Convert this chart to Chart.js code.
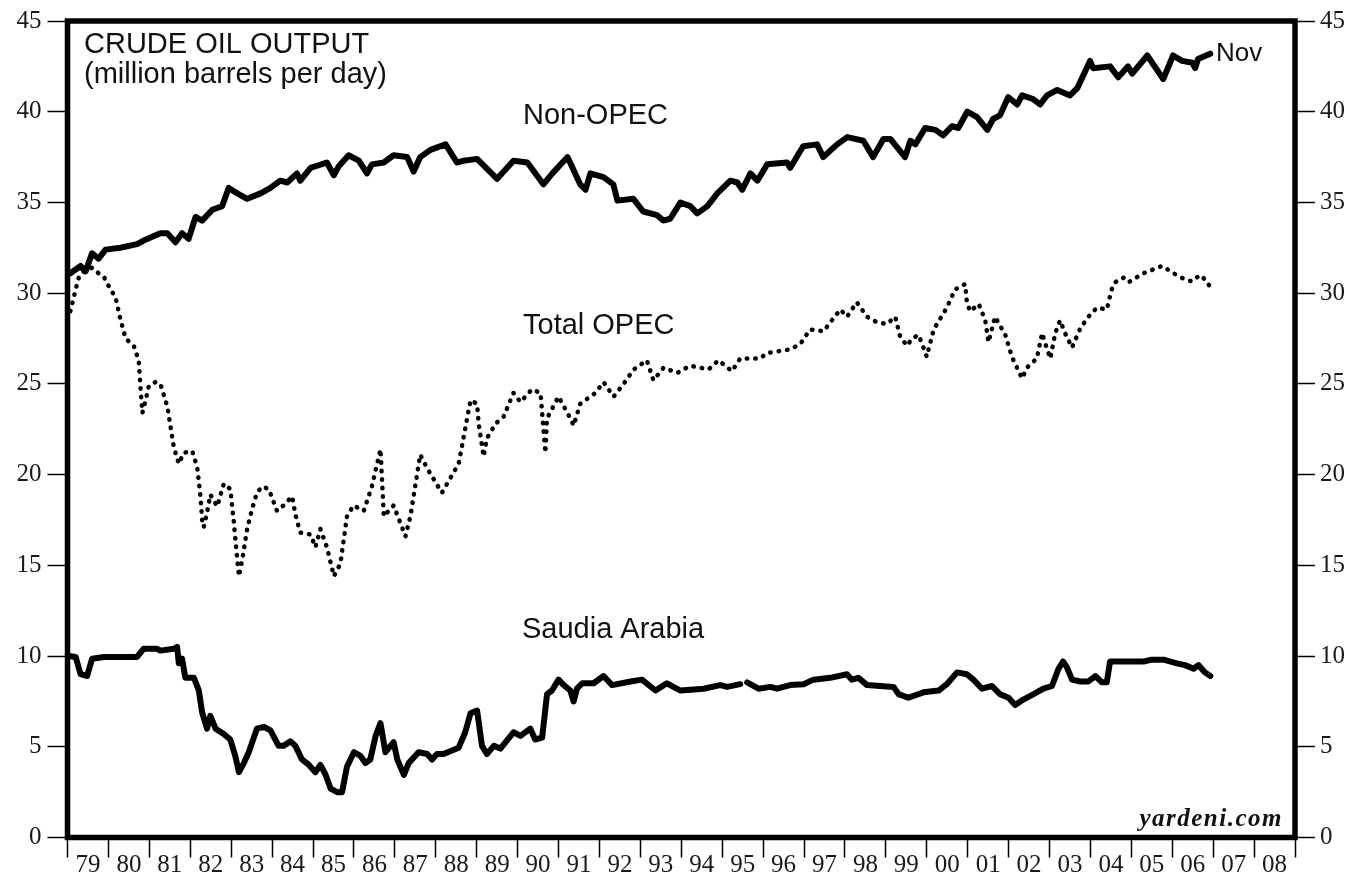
<!DOCTYPE html>
<html>
<head>
<meta charset="utf-8">
<title>Crude Oil Output</title>
<script src="https://cdn.jsdelivr.net/npm/chart.js@4.4.1/dist/chart.umd.min.js"></script>
<style>
  html, body { margin: 0; padding: 0; background: #fff; }
  canvas { display: block; }
</style>
</head>
<body>
<canvas id="chart" width="1351" height="875"></canvas>
<script>
// Year labels sit between the yearly tick marks (79 .. 08)
const yearLabels = ["79","80","81","82","83","84","85","86","87","88","89","90","91","92","93",
  "94","95","96","97","98","99","00","01","02","03","04","05","06","07","08"];

// Non-OPEC output, million barrels per day
const nonOpecYears = [1979.07, 1979.32, 1979.44, 1979.60, 1979.76, 1979.93, 1980.29, 1980.70, 1980.86, 1981.27,
  1981.44, 1981.64, 1981.80, 1981.96, 1982.13, 1982.29, 1982.54, 1982.78, 1982.94, 1983.15,
  1983.39, 1983.72, 1983.96, 1984.20, 1984.37, 1984.61, 1984.69, 1984.94, 1985.34, 1985.51,
  1985.63, 1985.87, 1986.12, 1986.32, 1986.44, 1986.73, 1986.97, 1987.30, 1987.46, 1987.62,
  1987.87, 1988.24, 1988.52, 1988.68, 1989.01, 1989.50, 1989.90, 1990.24, 1990.63, 1990.85,
  1991.22, 1991.53, 1991.66, 1991.78, 1992.10, 1992.34, 1992.44, 1992.83, 1993.07, 1993.41,
  1993.56, 1993.73, 1993.98, 1994.22, 1994.39, 1994.64, 1994.88, 1995.20, 1995.37, 1995.49,
  1995.69, 1995.86, 1996.10, 1996.59, 1996.66, 1996.98, 1997.32, 1997.47, 1997.81, 1998.06,
  1998.45, 1998.69, 1998.94, 1999.11, 1999.47, 1999.60, 1999.72, 1999.96, 2000.21, 2000.40,
  2000.62, 2000.77, 2000.99, 2001.23, 2001.48, 2001.62, 2001.79, 2001.99, 2002.21, 2002.33,
  2002.60, 2002.77, 2002.94, 2003.19, 2003.50, 2003.68, 2003.99, 2004.07, 2004.48, 2004.68,
  2004.92, 2005.02, 2005.39, 2005.63, 2005.78, 2006.02, 2006.24, 2006.49, 2006.56, 2006.63,
  2006.93];
const nonOpecValues = [31.1, 31.5, 31.2, 32.2, 31.9, 32.4, 32.5, 32.7, 32.9, 33.3,
  33.3, 32.8, 33.3, 33.0, 34.2, 34.0, 34.6, 34.8, 35.8, 35.5,
  35.2, 35.5, 35.8, 36.2, 36.1, 36.6, 36.2, 36.9, 37.2, 36.5,
  37.0, 37.6, 37.3, 36.6, 37.1, 37.2, 37.6, 37.5, 36.7, 37.5,
  37.9, 38.2, 37.2, 37.3, 37.4, 36.3, 37.3, 37.2, 36.0, 36.6,
  37.5, 36.0, 35.7, 36.6, 36.4, 36.0, 35.1, 35.2, 34.5, 34.3,
  34.0, 34.1, 35.0, 34.8, 34.4, 34.8, 35.5, 36.2, 36.1, 35.7,
  36.6, 36.2, 37.1, 37.2, 36.9, 38.1, 38.2, 37.5, 38.2, 38.6,
  38.4, 37.5, 38.5, 38.5, 37.5, 38.4, 38.2, 39.1, 39.0, 38.7,
  39.2, 39.1, 40.0, 39.7, 39.0, 39.6, 39.8, 40.8, 40.4, 40.9,
  40.7, 40.4, 40.9, 41.2, 40.9, 41.3, 42.8, 42.4, 42.5, 41.9,
  42.5, 42.1, 43.1, 42.3, 41.8, 43.1, 42.8, 42.7, 42.4, 42.9,
  43.2];

// Total OPEC (dotted line)
const opecYears = [1979.07, 1979.20, 1979.28, 1979.40, 1979.60, 1979.76, 1979.89, 1980.05, 1980.17, 1980.29,
  1980.42, 1980.62, 1980.74, 1980.78, 1980.83, 1980.91, 1980.99, 1981.15, 1981.27, 1981.44,
  1981.60, 1981.72, 1981.84, 1982.05, 1982.17, 1982.25, 1982.29, 1982.33, 1982.41, 1982.49,
  1982.66, 1982.82, 1982.98, 1983.06, 1983.15, 1983.19, 1983.27, 1983.39, 1983.51, 1983.63,
  1983.76, 1983.92, 1984.12, 1984.28, 1984.49, 1984.57, 1984.69, 1984.94, 1985.06, 1985.18,
  1985.34, 1985.51, 1985.67, 1985.83, 1985.99, 1986.24, 1986.44, 1986.65, 1986.73, 1986.97,
  1987.26, 1987.38, 1987.62, 1987.79, 1988.15, 1988.56, 1988.85, 1989.01, 1989.05, 1989.17,
  1989.25, 1989.46, 1989.66, 1989.90, 1990.07, 1990.35, 1990.56, 1990.68, 1990.72, 1991.00,
  1991.29, 1991.37, 1991.53, 1991.90, 1992.10, 1992.35, 1992.59, 1992.84, 1993.16, 1993.32,
  1993.57, 1993.90, 1994.22, 1994.67, 1994.91, 1995.24, 1995.44, 1995.93, 1996.09, 1996.66,
  1996.91, 1997.15, 1997.48, 1997.68, 1997.89, 1998.05, 1998.29, 1998.54, 1998.78, 1999.03,
  1999.23, 1999.35, 1999.52, 1999.64, 1999.80, 1999.92, 2000.00, 2000.17, 2000.33, 2000.49,
  2000.69, 2000.94, 2000.98, 2001.06, 2001.27, 2001.43, 2001.51, 2001.67, 2001.92, 2002.04,
  2002.12, 2002.33, 2002.45, 2002.69, 2002.82, 2002.90, 2003.02, 2003.14, 2003.26, 2003.38,
  2003.55, 2003.75, 2003.95, 2004.16, 2004.40, 2004.52, 2004.60, 2004.81, 2004.93, 2005.30,
  2005.75, 2006.03, 2006.31, 2006.48, 2006.68, 2006.85, 2006.93];
const opecValues = [29.0, 30.2, 30.9, 31.2, 31.4, 31.1, 30.9, 30.2, 29.8, 28.6,
  27.5, 27.1, 26.3, 24.9, 23.4, 24.1, 24.9, 25.1, 25.0, 23.75,
  21.5, 20.6, 21.2, 21.3, 20.4, 18.8, 17.5, 17.1, 17.9, 18.9,
  18.25, 19.5, 19.2, 17.5, 15.3, 14.4, 15.3, 17.0, 18.1, 19.0,
  19.35, 19.2, 18.0, 18.3, 18.8, 17.8, 16.8, 16.7, 16.0, 17.0,
  16.0, 14.4, 15.1, 17.7, 18.3, 18.0, 19.35, 21.4, 17.7, 18.3,
  16.6, 17.7, 21.1, 20.35, 19.0, 20.6, 24.1, 23.9, 22.8, 21.0,
  22.0, 22.8, 23.2, 24.5, 24.0, 24.7, 24.5, 21.2, 23.1, 24.3,
  23.1, 22.7, 23.9, 24.5, 25.1, 24.3, 25.0, 25.8, 26.3, 25.2,
  25.9, 25.6, 26.0, 25.8, 26.3, 25.7, 26.4, 26.4, 26.7, 26.9,
  27.2, 28.0, 27.9, 28.5, 29.1, 28.7, 29.5, 28.7, 28.4, 28.3,
  28.7, 27.6, 27.1, 27.5, 27.7, 27.0, 26.5, 28.0, 28.6, 29.2,
  30.2, 30.5, 29.5, 29.0, 29.4, 28.5, 27.3, 28.7, 27.7, 26.8,
  26.3, 25.3, 25.9, 26.4, 27.8, 27.2, 26.4, 27.8, 28.5, 27.8,
  27.0, 28.05, 28.7, 29.2, 29.1, 30.2, 30.6, 30.85, 30.6, 31.1,
  31.5, 31.1, 30.75, 30.65, 31.0, 30.65, 30.3];

// Saudi Arabia (null = small break in the printed line)
const saudiYears = [1979.03, 1979.20, 1979.32, 1979.48, 1979.60, 1979.89, 1980.70, 1980.86, 1981.19, 1981.27,
  1981.60, 1981.68, 1981.72, 1981.80, 1981.88, 1982.09, 1982.21, 1982.29, 1982.41, 1982.49,
  1982.62, 1982.82, 1982.98, 1983.10, 1983.19, 1983.31, 1983.43, 1983.63, 1983.80, 1983.96,
  1984.16, 1984.28, 1984.45, 1984.57, 1984.73, 1984.90, 1985.06, 1985.18, 1985.30, 1985.43,
  1985.59, 1985.71, 1985.83, 1986.00, 1986.16, 1986.28, 1986.40, 1986.53, 1986.65, 1986.77,
  1986.97, 1987.06, 1987.22, 1987.34, 1987.58, 1987.79, 1987.91, 1988.03, 1988.19, 1988.56,
  1988.72, 1988.85, 1989.01, 1989.13, 1989.25, 1989.42, 1989.58, 1989.90, 1990.07, 1990.31,
  1990.43, 1990.60, 1990.72, 1990.84, 1991.00, 1991.13, 1991.29, 1991.37, 1991.45, 1991.58,
  1991.86, 1992.10, 1992.31, 1992.76, 1993.04, 1993.37, 1993.65, 1993.98, 1994.55, 1994.95,
  1995.12, 1995.44, 1995.52, 1995.61, 1995.89, 1996.18, 1996.34, 1996.66, 1996.99, 1997.23,
  1997.64, 1998.05, 1998.17, 1998.33, 1998.54, 1998.86, 1999.19, 1999.31, 1999.55, 1999.92,
  2000.29, 2000.49, 2000.74, 2000.98, 2001.14, 2001.35, 2001.59, 2001.79, 2002.00, 2002.16,
  2002.36, 2002.61, 2002.85, 2003.06, 2003.22, 2003.33, 2003.42, 2003.55, 2003.75, 2003.95,
  2004.12, 2004.28, 2004.40, 2004.48, 2005.30, 2005.50, 2005.79, 2006.11, 2006.31, 2006.52,
  2006.64, 2006.80, 2006.93];
const saudiValues = [10.0, 9.95, 9.0, 8.9, 9.85, 9.95, 9.95, 10.4, 10.4, 10.3,
  10.4, 10.5, 9.6, 9.85, 8.8, 8.8, 8.1, 6.9, 6.0, 6.7,
  6.0, 5.7, 5.4, 4.5, 3.6, 4.1, 4.7, 6.0, 6.1, 5.9,
  5.05, 5.05, 5.3, 5.05, 4.3, 4.0, 3.6, 4.0, 3.5, 2.7,
  2.5, 2.5, 3.9, 4.7, 4.5, 4.1, 4.3, 5.6, 6.3, 4.7,
  5.25, 4.3, 3.45, 4.1, 4.7, 4.6, 4.3, 4.6, 4.6, 4.95,
  5.8, 6.85, 7.0, 5.05, 4.6, 5.05, 4.9, 5.8, 5.6, 6.0,
  5.4, 5.5, 7.9, 8.1, 8.7, 8.4, 8.1, 7.5, 8.2, 8.5,
  8.5, 8.9, 8.4, 8.6, 8.7, 8.1, 8.5, 8.1, 8.2, 8.4,
  8.3, 8.45, null, 8.55, 8.2, 8.3, 8.2, 8.4, 8.45, 8.7,
  8.8, 9.0, 8.7, 8.8, 8.4, 8.35, 8.3, 7.9, 7.7, 8.0,
  8.1, 8.45, 9.1, 9.0, 8.7, 8.2, 8.35, 7.9, 7.7, 7.3,
  7.6, 7.9, 8.2, 8.35, 9.3, 9.7, 9.4, 8.7, 8.6, 8.6,
  8.9, 8.55, 8.55, 9.7, 9.7, 9.8, 9.8, 9.6, 9.5, 9.3,
  9.5, 9.1, 8.9];

const toPoints = (xs, ys) => xs.map((x, i) => ({ x: x, y: ys[i] }));

const serif = "'Liberation Serif', 'Times New Roman', serif";
const sans = "'Liberation Sans', Arial, sans-serif";

// thick black frame round the plot area
const framePlugin = {
  id: "frame",
  afterDatasetsDraw(chart) {
    const a = chart.chartArea;
    const ctx = chart.ctx;
    ctx.save();
    ctx.strokeStyle = "#000";
    ctx.lineWidth = 5.5;
    ctx.lineJoin = "miter";
    ctx.strokeRect(a.left, a.top, a.right - a.left, a.bottom - a.top);
    ctx.restore();
  },
};

// title, series names and source note
const notesPlugin = {
  id: "notes",
  afterDraw(chart) {
    const ctx = chart.ctx;
    ctx.save();
    ctx.fillStyle = "#111";
    ctx.textBaseline = "alphabetic";
    ctx.textAlign = "left";
    ctx.font = "29px " + sans;
    ctx.fillText("CRUDE OIL OUTPUT", 84, 53);
    ctx.fillText("(million barrels per day)", 84, 83);
    ctx.fillText("Non-OPEC", 523, 124);
    ctx.fillText("Total OPEC", 523, 334);
    ctx.fillText("Saudia Arabia", 522, 638);
    ctx.font = "26px " + sans;
    ctx.fillText("Nov", 1216, 61);
    ctx.textAlign = "right";
    ctx.font = "italic bold 25px " + serif;
    ctx.letterSpacing = "1.5px";
    ctx.fillText("yardeni.com", 1283, 826);
    ctx.restore();
  },
};

const yAxis = (position, width) => ({
  type: "linear",
  position: position,
  min: 0,
  max: 45,
  afterFit: (s) => { s.width = width; },
  border: { display: false },
  grid: { drawOnChartArea: false, tickLength: 20, tickColor: "#000", tickWidth: 1.5 },
  ticks: {
    stepSize: 5,
    padding: position === "left" ? 6 : 5,
    color: "#1a1a1a",
    font: { family: serif, size: 25 },
  },
});

new Chart(document.getElementById("chart"), {
  type: "line",
  data: {
    datasets: [
      {
        label: "Non-OPEC",
        data: toPoints(nonOpecYears, nonOpecValues),
        borderColor: "#000",
        borderWidth: 6,
        borderJoinStyle: "round",
        borderCapStyle: "round",
        pointRadius: 0,
        tension: 0,
      },
      {
        label: "Total OPEC",
        data: toPoints(opecYears, opecValues),
        borderColor: "#000",
        borderWidth: 4.5,
        borderDash: [0.5, 8],
        borderCapStyle: "round",
        borderJoinStyle: "round",
        pointRadius: 0,
        tension: 0,
      },
      {
        label: "Saudia Arabia",
        data: toPoints(saudiYears, saudiValues),
        borderColor: "#000",
        borderWidth: 6,
        borderJoinStyle: "round",
        borderCapStyle: "round",
        pointRadius: 0,
        tension: 0,
        spanGaps: false,
      },
    ],
  },
  options: {
    responsive: false,
    animation: false,
    events: [],
    layout: { padding: { top: 20.5, left: 0, right: 0, bottom: 0 } },
    plugins: { legend: { display: false }, tooltip: { enabled: false } },
    scales: {
      x: {
        type: "linear",
        position: "bottom",
        min: 1979,
        max: 2009,
        // tick marks on year boundaries, labels at mid-year
        afterBuildTicks: (s) => {
          const t = [];
          for (let i = 0; i < yearLabels.length; i++) {
            t.push({ value: 1979 + i });
            t.push({ value: 1979.5 + i });
          }
          t.push({ value: 1979 + yearLabels.length });
          s.ticks = t;
        },
        afterFit: (s) => { s.height = 37.5; },
        border: { display: false },
        grid: {
          drawOnChartArea: false,
          tickLength: 20,
          tickWidth: 1.5,
          tickColor: (c) => (c.tick && Number.isInteger(c.tick.value) ? "#000" : "rgba(0,0,0,0)"),
        },
        ticks: {
          autoSkip: false,
          maxRotation: 0,
          minRotation: 0,
          padding: -7,
          color: "#1a1a1a",
          font: { family: serif, size: 25 },
          callback: (v) => (Number.isInteger(v) ? "" : yearLabels[Math.floor(v) - 1979]),
        },
      },
      y: yAxis("left", 67.5),
      y2: yAxis("right", 56),
    },
  },
  plugins: [framePlugin, notesPlugin],
});
</script>
</body>
</html>
